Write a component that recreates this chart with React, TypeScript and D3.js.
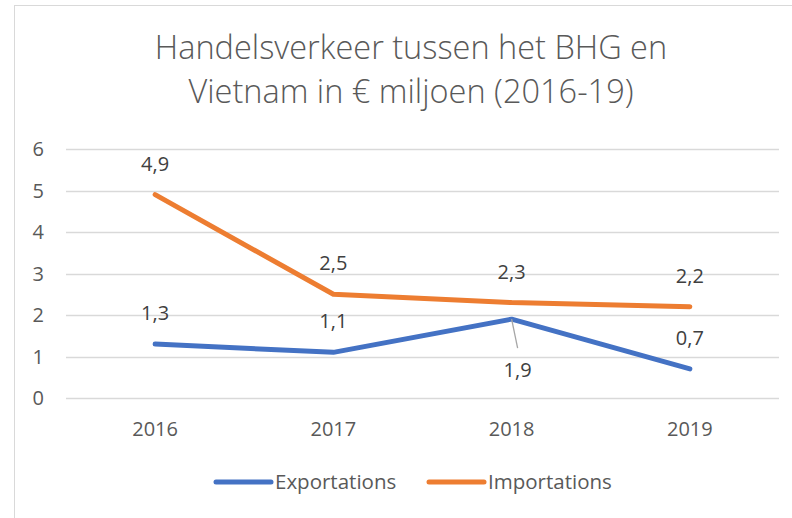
import React, { useRef, useEffect } from "react";
import * as d3 from "d3";

// chart data
const years = ["2016", "2017", "2018", "2019"];
const exportations = [1.3, 1.1, 1.9, 0.7];
const importations = [4.9, 2.5, 2.3, 2.2];
const yTicks = [0, 1, 2, 3, 4, 5, 6];
const titleLines = ["Handelsverkeer tussen het BHG en", "Vietnam in € miljoen (2016-19)"];
const seriesNames = ["Exportations", "Importations"];

const W = 792;
const H = 518;
const FONT = "'Open Sans', 'Liberation Sans', sans-serif";
const TEXT = "#595959";
const GRID = "#d9d9d9";
const BLUE = "#4472C4";
const ORANGE = "#ED7D31";

export default function App() {
  const svgRef = useRef<SVGSVGElement>(null);

  useEffect(() => {
    const svg = d3.select(svgRef.current);
    svg.selectAll("*").remove();

    // chart frame (right and bottom edges fall outside the picture)
    svg
      .append("rect")
      .attr("x", 14.5)
      .attr("y", 5.5)
      .attr("width", 820)
      .attr("height", 540)
      .attr("fill", "#fff")
      .attr("stroke", GRID);

    // title
    const title = svg
      .append("text")
      .attr("text-anchor", "middle")
      .attr("font-family", FONT)
      .attr("font-weight", 300)
      .attr("font-size", 32.5)
      .attr("fill", TEXT);
    titleLines.forEach((t, i) => {
      title.append("tspan").attr("x", 411).attr("y", 59 + i * 44).text(t);
    });

    const x = d3.scaleBand().domain(years).range([66, 779]);
    const y = d3.scaleLinear().domain([0, 6]).range([398, 149]);
    const cx = (d: string) => (x(d) as number) + x.bandwidth() / 2;

    // gridlines
    svg
      .append("g")
      .selectAll("line")
      .data(yTicks)
      .enter()
      .append("line")
      .attr("x1", 66)
      .attr("x2", 779)
      .attr("y1", (d) => Math.round(y(d)) + 0.5)
      .attr("y2", (d) => Math.round(y(d)) + 0.5)
      .attr("stroke", GRID)
      .attr("stroke-width", 1.3);

    // y axis labels
    svg
      .append("g")
      .selectAll("text")
      .data(yTicks)
      .enter()
      .append("text")
      .attr("x", 44)
      .attr("y", (d) => y(d) + 7)
      .attr("text-anchor", "end")
      .attr("font-family", FONT)
      .attr("font-size", 20)
      .attr("fill", TEXT)
      .text((d) => d);

    // x axis labels
    svg
      .append("g")
      .selectAll("text")
      .data(years)
      .enter()
      .append("text")
      .attr("x", cx)
      .attr("y", 436)
      .attr("text-anchor", "middle")
      .attr("font-family", FONT)
      .attr("font-size", 20)
      .attr("fill", TEXT)
      .text((d) => d);

    const line = d3
      .line<number>()
      .x((_, i) => cx(years[i]))
      .y((d) => y(d));

    const series = [
      { name: seriesNames[0], values: exportations, color: BLUE },
      { name: seriesNames[1], values: importations, color: ORANGE },
    ];

    series.forEach((s) => {
      svg
        .append("path")
        .attr("d", line(s.values))
        .attr("fill", "none")
        .attr("stroke", s.color)
        .attr("stroke-width", 5)
        .attr("stroke-linecap", "round")
        .attr("stroke-linejoin", "round");
    });

    const fmt = (v: number) => v.toFixed(1).replace(".", ",");

    // leader line for the 2018 export label (placed below the point)
    svg
      .append("line")
      .attr("x1", cx("2018"))
      .attr("y1", y(exportations[2]))
      .attr("x2", cx("2018") + 6)
      .attr("y2", y(exportations[2]) + 29)
      .attr("stroke", "#a6a6a6")
      .attr("stroke-width", 1.3);

    // data labels
    series.forEach((s, si) => {
      svg
        .append("g")
        .selectAll("text")
        .data(s.values)
        .enter()
        .append("text")
        .attr("x", (_, i) => cx(years[i]) + (si === 0 && i === 2 ? 6 : 0))
        .attr("y", (d, i) => (si === 0 && i === 2 ? y(d) + 58 : y(d) - 24))
        .attr("text-anchor", "middle")
        .attr("font-family", FONT)
        .attr("font-size", 20)
        .attr("fill", "#404040")
        .text((d) => fmt(d));
    });

    // legend
    const legendX = [216, 429];
    series.forEach((s, i) => {
      const g = svg.append("g").attr("transform", `translate(${legendX[i]},482)`);
      g.append("line")
        .attr("x1", 0)
        .attr("x2", 55)
        .attr("stroke", s.color)
        .attr("stroke-width", 5)
        .attr("stroke-linecap", "round");
      g.append("text")
        .attr("x", 59)
        .attr("y", 7)
        .attr("font-family", FONT)
        .attr("font-size", 20.5)
        .attr("fill", TEXT)
        .text(s.name);
    });
  }, []);

  return (
    <svg
      ref={svgRef}
      width={W}
      height={H}
      style={{ position: "absolute", left: 0, top: 0, background: "#fff" }}
    />
  );
}
